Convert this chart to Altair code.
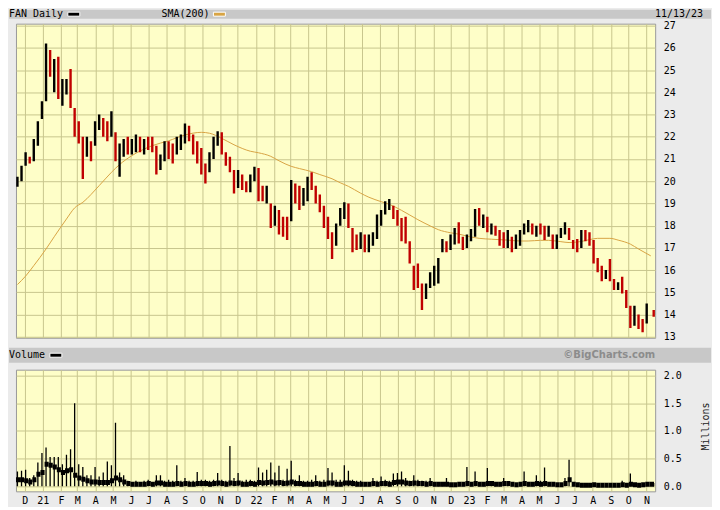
import altair as alt
import pandas as pd

# ---------------- data (weekly) ----------------
first_week = "2020-11-16"
last_day = "2023-11-13"

hi = [20.2, 20.7, 21.3, 21.1, 21.9, 22.7, 23.6, 26.2, 25.9, 25.5,
      25.6, 24.6, 24.6, 25.05, 23.3, 22.7, 22.0, 22.0, 21.8, 22.7,
      23.0, 22.85, 22.7, 23.15, 22.2, 21.7, 21.9, 22.0, 21.9, 22.1,
      22.0, 21.9, 22.0, 22.0, 21.6, 21.2, 21.8, 21.8, 21.7, 22.0,
      22.1, 22.6, 22.5, 22.1, 21.8, 21.5, 20.8, 21.3, 22.0, 22.25,
      22.2, 21.3, 21.1, 20.5, 20.5, 20.3, 20.0, 20.3, 20.65, 20.6,
      19.8, 19.8, 19.0, 18.9, 18.7, 18.4, 18.4, 20.05, 19.9, 19.8,
      19.7, 20.2, 20.4, 19.8, 19.4, 18.9, 18.4, 17.7, 18.1, 18.8,
      19.05, 19.0, 17.9, 17.6, 17.7, 17.6, 17.6, 17.7, 18.5, 18.7,
      19.1, 19.2, 18.9, 18.7, 18.35, 18.4, 17.3, 16.2, 16.3, 15.4,
      15.4, 15.9, 16.2, 16.55, 17.4, 17.3, 17.6, 17.9, 18.15, 17.5,
      17.6, 17.85, 18.75, 18.8, 18.5, 18.4, 18.1, 18.0, 17.8, 17.7,
      17.8, 17.5, 17.6, 17.8, 18.1, 18.25, 18.1, 18.0, 18.1, 18.0,
      18.0, 17.6, 17.6, 17.9, 18.15, 17.9, 17.35, 17.4, 17.8, 17.8,
      17.7, 17.35, 16.55, 16.2, 16.0, 16.5, 15.6, 15.45, 15.7, 15.1,
      14.4, 14.4, 14.0, 13.8, 14.5, 14.2]

lo = [19.75, 20.0, 20.7, 20.8, 20.9, 21.6, 22.8, 23.6, 24.7, 24.0,
      23.7, 23.4, 23.9, 23.3, 22.0, 21.7, 20.1, 21.1, 20.9, 21.6,
      22.3, 22.0, 21.8, 22.0, 20.9, 20.2, 21.1, 21.2, 21.2, 21.3,
      21.3, 21.2, 21.4, 21.3, 20.3, 20.5, 20.9, 21.0, 20.8, 21.2,
      21.4, 21.7, 21.8, 21.2, 20.8, 20.3, 19.9, 20.4, 21.0, 21.6,
      21.2, 20.7, 20.4, 19.45, 19.7, 19.6, 19.5, 19.5, 20.0, 19.1,
      19.1, 19.0, 17.9, 18.0, 17.6, 17.5, 17.35, 18.2, 19.0, 18.7,
      18.9, 19.1, 19.6, 19.0, 18.6, 17.9, 17.4, 16.5, 17.1, 18.0,
      18.3, 17.9, 16.8, 16.9, 16.95, 16.8, 16.8, 17.1, 17.4, 18.0,
      18.5, 18.7, 18.3, 18.0, 17.3, 17.2, 16.3, 15.1, 15.2, 14.2,
      14.7, 15.2, 15.3, 15.4, 16.8, 16.8, 16.9, 17.15, 17.2, 16.9,
      17.0, 17.3, 17.5, 18.0, 17.9, 17.7, 17.6, 17.55, 17.1, 17.0,
      17.0, 16.8, 16.95, 17.1, 17.6, 17.7, 17.6, 17.5, 17.6, 17.35,
      17.5, 16.95, 16.95, 17.45, 17.6, 17.35, 16.95, 16.8, 17.0, 17.3,
      17.1, 16.3, 15.9, 15.5, 15.6, 15.5, 15.1, 15.1, 14.95, 14.3,
      13.4, 13.5, 13.35, 13.2, 13.6, 13.9]

close = [19.9, 20.6, 21.0, 20.9, 21.8, 22.5, 23.5, 25.8, 25.0, 25.1,
         24.0, 24.3, 24.3, 23.6, 22.3, 21.9, 21.4, 21.6, 21.2, 22.5,
         22.6, 22.3, 22.0, 22.2, 21.0, 21.3, 21.7, 21.5, 21.6, 21.8,
         21.5, 21.7, 21.6, 21.5, 20.6, 20.8, 21.6, 21.3, 21.0, 21.8,
         21.9, 22.4, 22.0, 21.4, 21.0, 20.6, 20.1, 21.1, 21.8, 21.8,
         21.3, 21.0, 20.6, 19.9, 20.2, 19.8, 19.7, 20.0, 20.5, 19.5,
         19.4, 19.6, 18.1, 18.6, 17.9, 17.7, 17.6, 19.6, 19.4, 19.0,
         19.3, 20.0, 19.8, 19.1, 18.8, 18.1, 17.6, 16.8, 17.9, 18.5,
         18.6, 18.0, 17.2, 17.0, 17.3, 17.2, 17.3, 17.5, 18.3, 18.4,
         18.9, 18.9, 18.5, 18.1, 17.6, 17.4, 16.5, 15.4, 15.3, 14.6,
         15.0, 15.7, 16.0, 16.4, 17.2, 17.0, 17.4, 17.7, 17.4, 17.0,
         17.4, 17.7, 18.4, 18.2, 18.2, 17.9, 17.9, 17.7, 17.4, 17.3,
         17.6, 17.0, 17.3, 17.7, 17.9, 18.0, 17.8, 17.9, 17.8, 17.6,
         17.8, 17.1, 17.5, 17.8, 17.8, 17.5, 17.1, 17.0, 17.6, 17.5,
         17.2, 16.5, 16.1, 15.6, 15.9, 15.7, 15.2, 15.3, 15.2, 14.5,
         13.6, 14.1, 13.6, 13.5, 14.3, 14.0]

# volume, millions: typical daily level and largest day of each week
vol_base = [0.12, 0.12, 0.10, 0.08, 0.12, 0.22, 0.25, 0.40, 0.38, 0.35,
            0.30, 0.25, 0.28, 0.30, 0.20, 0.15, 0.13, 0.10, 0.08, 0.08,
            0.07, 0.07, 0.07, 0.10, 0.15, 0.12, 0.08, 0.05, 0.04, 0.04,
            0.04, 0.04, 0.05, 0.04, 0.06, 0.06, 0.04, 0.04, 0.04, 0.05,
            0.04, 0.05, 0.04, 0.04, 0.05, 0.05, 0.05, 0.04, 0.05, 0.06,
            0.05, 0.04, 0.06, 0.05, 0.06, 0.04, 0.04, 0.05, 0.04, 0.07,
            0.06, 0.07, 0.08, 0.06, 0.07, 0.05, 0.06, 0.08, 0.05, 0.05,
            0.04, 0.04, 0.04, 0.05, 0.04, 0.04, 0.06, 0.06, 0.04, 0.04,
            0.06, 0.06, 0.05, 0.04, 0.04, 0.04, 0.04, 0.05, 0.04, 0.05,
            0.05, 0.04, 0.07, 0.08, 0.08, 0.06, 0.05, 0.06, 0.05, 0.05,
            0.04, 0.05, 0.04, 0.04, 0.04, 0.04, 0.03, 0.03, 0.04, 0.04,
            0.05, 0.04, 0.05, 0.04, 0.04, 0.05, 0.05, 0.04, 0.04, 0.05,
            0.05, 0.04, 0.03, 0.04, 0.05, 0.04, 0.04, 0.05, 0.04, 0.05,
            0.04, 0.04, 0.03, 0.03, 0.05, 0.12, 0.04, 0.03, 0.02, 0.02,
            0.02, 0.03, 0.02, 0.02, 0.02, 0.02, 0.02, 0.02, 0.03, 0.02,
            0.04, 0.03, 0.02, 0.03, 0.04, 0.04]

vol_peak = [0.27, 0.28, 0.30, 0.15, 0.20, 0.43, 0.60, 0.70, 0.53, 0.53,
            0.53, 0.40, 0.57, 0.67, 1.50, 0.40, 0.35, 0.20, 0.20, 0.35,
            0.18, 0.25, 0.45, 0.38, 1.15, 0.25, 0.20, 0.10, 0.08, 0.10,
            0.08, 0.10, 0.12, 0.08, 0.20, 0.20, 0.10, 0.12, 0.10, 0.38,
            0.10, 0.15, 0.10, 0.10, 0.26, 0.12, 0.12, 0.10, 0.12, 0.24,
            0.12, 0.10, 0.73, 0.15, 0.24, 0.10, 0.12, 0.12, 0.10, 0.34,
            0.25, 0.30, 0.43, 0.25, 0.37, 0.12, 0.32, 0.46, 0.12, 0.20,
            0.10, 0.10, 0.12, 0.20, 0.10, 0.12, 0.33, 0.25, 0.12, 0.12,
            0.38, 0.28, 0.12, 0.10, 0.10, 0.08, 0.08, 0.15, 0.10, 0.18,
            0.12, 0.10, 0.23, 0.24, 0.27, 0.15, 0.10, 0.20, 0.12, 0.10,
            0.10, 0.15, 0.08, 0.08, 0.08, 0.15, 0.06, 0.06, 0.06, 0.06,
            0.35, 0.06, 0.27, 0.08, 0.08, 0.33, 0.08, 0.06, 0.08, 0.15,
            0.08, 0.08, 0.06, 0.08, 0.27, 0.08, 0.08, 0.20, 0.10, 0.34,
            0.08, 0.08, 0.06, 0.06, 0.15, 0.48, 0.08, 0.05, 0.04, 0.04,
            0.04, 0.06, 0.04, 0.04, 0.04, 0.04, 0.04, 0.04, 0.10, 0.04,
            0.23, 0.05, 0.04, 0.05, 0.08, 0.06]

# 200-day simple moving average, read at selected weeks
sma_week = [0, 2, 4, 7, 9, 12, 14, 16, 20, 23, 25, 28, 33, 37, 41, 45, 47, 50,
            53, 57, 59, 62, 64, 67, 69, 72, 74, 77, 79, 81, 84, 86, 89, 91, 94,
            96, 98, 101, 103, 106, 108, 111, 113, 116, 118, 120, 123, 125, 128,
            130, 133, 135, 138, 140, 142, 145, 147, 150, 152, 155]
sma_val = [15.35, 15.73, 16.2, 16.95, 17.5, 18.3, 18.8, 19.05, 19.8, 20.4, 20.75,
           21.15, 21.6, 21.82, 22.08, 22.2, 22.16, 21.93, 21.64, 21.35, 21.28,
           21.12, 20.92, 20.67, 20.57, 20.43, 20.3, 20.11, 19.93, 19.77, 19.46,
           19.28, 19.08, 18.96, 18.69, 18.48, 18.27, 17.99, 17.82, 17.68, 17.62,
           17.49, 17.43, 17.39, 17.37, 17.35, 17.31, 17.31, 17.34, 17.34, 17.28,
           17.24, 17.29, 17.37, 17.43, 17.43, 17.35, 17.17, 16.95, 16.64]

price_ticks = list(range(13, 28))
vol_ticks = [0.0, 0.5, 1.0, 1.5, 2.0]

# ---------------- tables ----------------
start = pd.Timestamp(first_week, tz="UTC")
end_day = pd.Timestamp(last_day, tz="UTC")
n = len(hi)
wk_start = [start + pd.Timedelta(days=7 * i) for i in range(n)]
wk_mid = [t + pd.Timedelta(hours=60) for t in wk_start]
wk_mid[-1] = end_day + pd.Timedelta(hours=12)
wk_end = [t + pd.Timedelta(days=7) for t in wk_start]
wk_end[-1] = end_day + pd.Timedelta(days=1)

direction = ["up"] + ["up" if close[i] >= close[i - 1] else "down" for i in range(1, n)]

price_df = pd.DataFrame({"date": wk_mid, "lo": lo, "hi": hi, "dir": direction})
vol_df = pd.DataFrame({"ws": wk_start, "we": wk_end, "date": wk_mid,
                       "base": vol_base, "peak": [max(a, b) for a, b in zip(vol_peak, vol_base)]})
sma_df = pd.DataFrame({"date": [start + pd.Timedelta(days=7 * w, hours=60) for w in sma_week],
                       "lo": sma_val})
one = pd.DataFrame({"k": [0]})

MONO = "DejaVu Sans Mono"
BAND = "#c8c8c8"

months = []
y, m = 2020, 12
while (y, m) <= (2023, 11):
    months.append(alt.DateTime(year=y, month=m, date=1, utc=True))
    m += 1
    if m == 13:
        y, m = y + 1, 1

xscale = alt.Scale(type="utc",
                   domain=[alt.DateTime(year=2020, month=11, date=16, utc=True),
                           alt.DateTime(year=2023, month=11, date=16, utc=True)])

W, H1, H2 = 641, 315, 122


def txt(s, x, y, align="left", **kw):
    return alt.Chart(one).mark_text(text=s, align=align, baseline="middle",
                                    font=kw.pop("font", MONO),
                                    fontSize=kw.pop("fontSize", 10), **kw).encode(
        x=alt.value(x), y=alt.value(y))


def box(x1, x2, y1, y2, color, **kw):
    return alt.Chart(one).mark_rect(color=color, **kw).encode(
        x=alt.value(x1), x2=alt.value(x2), y=alt.value(y1), y2=alt.value(y2))


# ---------------- price panel ----------------
px_axis = alt.Axis(values=months, labels=False, ticks=False, domain=False,
                   grid=True, title=None)
py_axis = alt.Axis(orient="right", values=price_ticks, grid=True, ticks=False,
                   tickSize=0, domain=False, labelPadding=8, title=None,
                   labelOverlap=False, labelFlush=False)
py_scale = alt.Scale(domain=[12.955, 27.09], nice=False, zero=False)

bars = alt.Chart(price_df).mark_rule(strokeWidth=2.4, clip=True).encode(
    x=alt.X("date:T", scale=xscale, axis=px_axis),
    y=alt.Y("lo:Q", scale=py_scale, axis=py_axis),
    y2="hi:Q",
    color=alt.Color("dir:N", scale=alt.Scale(domain=["up", "down"],
                                             range=["#000000", "#c00000"]), legend=None),
)
sma = alt.Chart(sma_df).mark_line(color="#d8a444", strokeWidth=1, clip=True,
                                  interpolate="monotone").encode(
    x=alt.X("date:T", scale=xscale, axis=px_axis),
    y=alt.Y("lo:Q", scale=py_scale, axis=py_axis),
)

top = alt.layer(
    box(-7, 697, -14, -5, BAND),
    txt("FAN Daily", -7, -9.5),
    box(52, 64, -11.5, -7.5, "#000000", stroke="#ffffff", strokeWidth=1),
    txt("SMA(200)", 146, -9.5),
    box(198, 210, -11.5, -7.5, "#d8a444", stroke="#ffffff", strokeWidth=1),
    txt("11/13/23", 689, -9.5, align="right"),
    sma,
    bars,
).properties(width=W, height=H1)

# ---------------- volume panel ----------------
vx_axis = alt.Axis(values=months, grid=True, ticks=False, domain=False, title=None,
                   labelPadding=4, labelOverlap=False, labelFlush=False,
                   labelExpr="utcFormat(datum.value, '%m') == '01' ? utcFormat(datum.value, '%y') : substring(utcFormat(datum.value, '%b'), 0, 1)")
vy_axis = alt.Axis(orient="right", values=vol_ticks, format=".1f", grid=True,
                   ticks=False, tickSize=0, domain=False, labelPadding=8, title=None,
                   labelOverlap=False, labelFlush=False)
vy_scale = alt.Scale(domain=[0, 2.0165], nice=False)

vbase = alt.Chart(vol_df).mark_bar(color="#000000", clip=True).encode(
    x=alt.X("ws:T", scale=xscale, axis=vx_axis),
    x2="we:T",
    y=alt.Y("base:Q", scale=vy_scale, axis=vy_axis),
)
vpeak = alt.Chart(vol_df).mark_rule(color="#000000", strokeWidth=1.3, clip=True).encode(
    x=alt.X("date:T", scale=xscale, axis=vx_axis),
    y=alt.Y("peak:Q", scale=vy_scale, axis=vy_axis),
    y2=alt.datum(0),
)

bottom = alt.layer(
    box(-7, 697, -22, -7, BAND),
    txt("Volume", -7, -14.5),
    box(34, 46, -16.5, -12.5, "#000000", stroke="#ffffff", strokeWidth=1),
    txt("\u00a9BigCharts.com", 641, -14.5, align="right", font="DejaVu Sans",
        fontWeight="bold", color="#8c8c8c"),
    txt("Millions", 692, 57, align="center", angle=270, color="#222222"),
    vbase,
    vpeak,
).properties(width=W, height=H2)

chart = alt.vconcat(top, bottom, spacing=32, bounds="flush").properties(
    padding=0, background="#ebebeb"
).configure_view(
    fill="#fefec8", stroke="#9a9a9a", strokeWidth=1
).configure_axis(
    labelFont=MONO, labelFontSize=10, labelColor="#000000",
    gridColor="#c8c68e", gridWidth=1, gridOpacity=1
)

chart.save("out.html", embed_options={"renderer": "svg", "actions": False})
